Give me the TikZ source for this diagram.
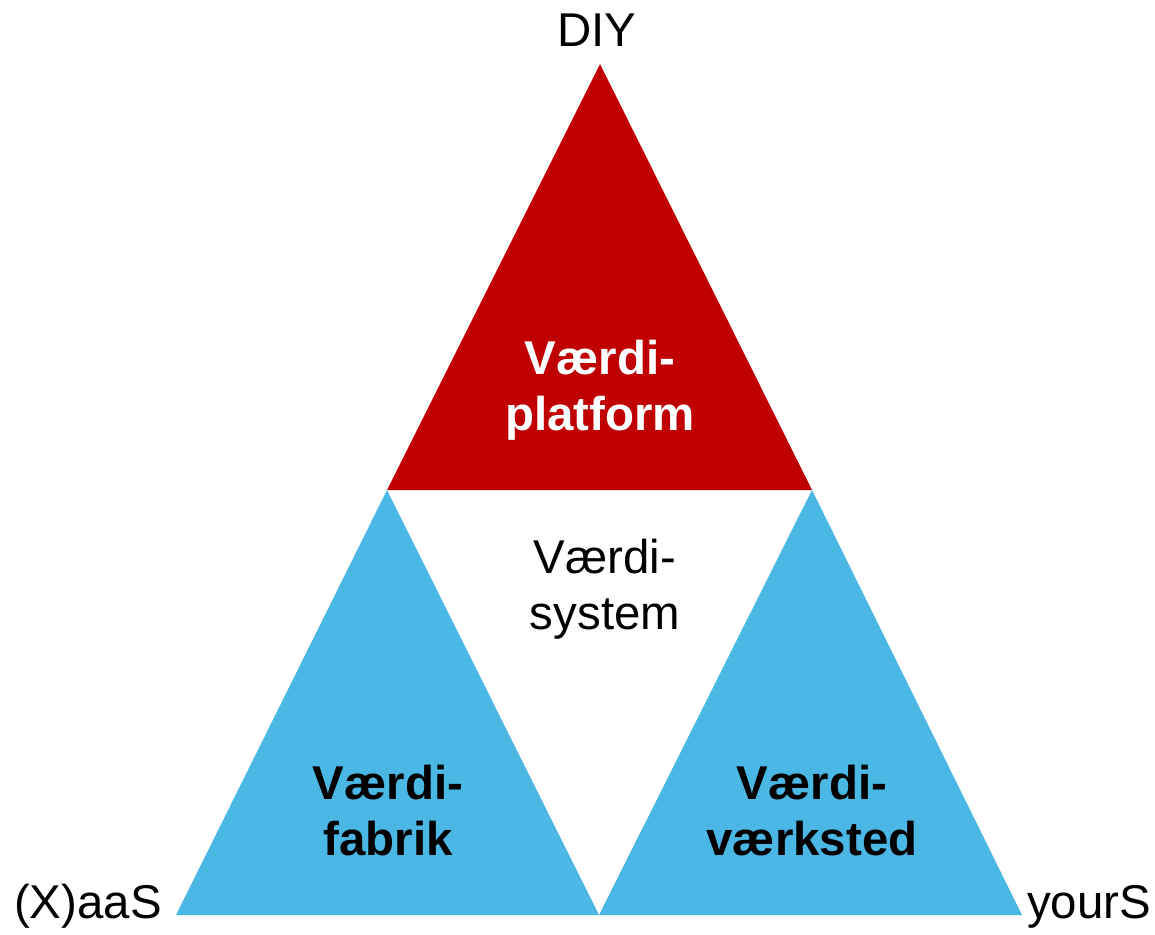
\documentclass[tikz,border=0pt]{standalone}
\usepackage{fontspec}
\setmainfont{Liberation Sans}
\usetikzlibrary{positioning}
\definecolor{myred}{RGB}{192,0,0}
\definecolor{myblue}{RGB}{74,183,229}
\tikzset{
  lbl/.style={inner sep=0pt, align=center, anchor=base, font=\fontsize{27}{31.5}\selectfont},
  bold/.style={lbl, font=\fontsize{27}{31.5}\selectfont\bfseries}
}

\begin{document}
\begin{tikzpicture}[x=0.02cm,y=-0.02cm]
    \useasboundingbox (0,0) rectangle (1155,934);
    \coordinate (top) at (600,64);
    \coordinate (ml) at (387,490);
    \coordinate (mr) at (812,490);
    \coordinate (bl) at (176,915);
    \coordinate (bm) at (599,915);
    \coordinate (br) at (1022,915);
    % triangles
    \fill[myred] (top) -- (ml) -- (mr) -- cycle;
    \fill[myblue] (ml) -- (bl) -- (bm) -- cycle;
    \fill[myblue] (mr) -- (bm) -- (br) -- cycle;
    % corner labels
    \node[lbl] (diy) at (597,46) {DIY};
    \node[lbl] (xaas) at (88,918) {(X)aaS};
    \node[lbl] (yours) at (1089,918) {yourS};
    % inner labels (base = last line)
    \node[bold, text=white] (platform) at (600,430) {Værdi-\\platform};
    \node[lbl] (system) at (605,629) {Værdi-\\system};
    \node[bold] (fabrik) at (388,855) {Værdi-\\fabrik};
    \node[bold] (vaerksted) at (812,855) {Værdi-\\værksted};
\end{tikzpicture}
\end{document}
